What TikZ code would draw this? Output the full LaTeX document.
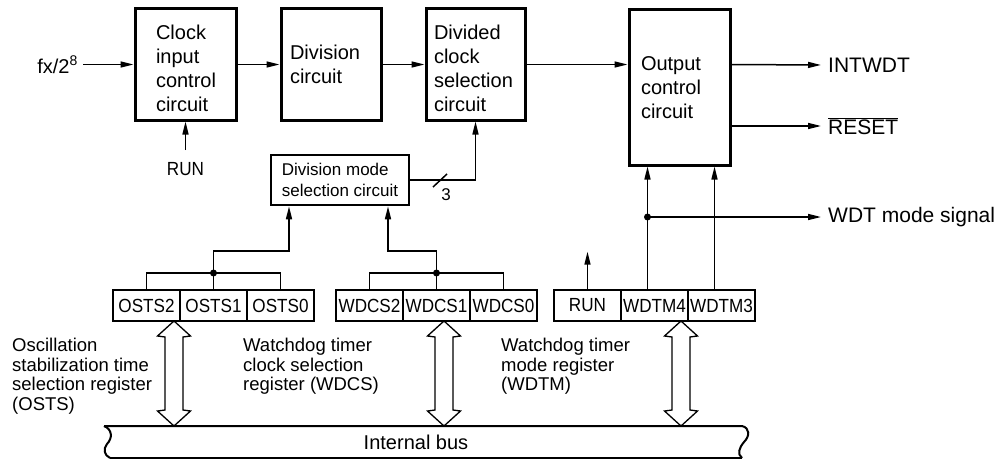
\documentclass[tikz,border=0pt]{standalone}
\usepackage{fontspec}
\setmainfont{Liberation Sans}
\newfontfamily\narrowfont[FakeStretch=0.9]{Liberation Sans}
\usetikzlibrary{arrows.meta}
\newcommand{\lowstrut}{\rule{0pt}{22pt}}
\tikzset{
  box/.style={draw, line width=3pt, align=left, font=\fontsize{20}{24}\selectfont, inner ysep=0pt},
  reg/.style={draw, line width=2.6pt, minimum width=67pt, minimum height=31pt, inner sep=0pt, font={\narrowfont\fontsize{19}{19}\selectfont}},
  wire/.style={line width=1.5pt},
  arr/.style={wire, -{Triangle[length=13pt,width=6pt]}},
  lbl/.style={inner xsep=3pt, inner ysep=0pt, font=\fontsize{20}{24}\selectfont},
  outlbl/.style={inner xsep=7pt, inner ysep=0pt, anchor=west, font=\fontsize{21}{24}\selectfont},
  note/.style={inner sep=0pt, align=left, anchor=north west, font=\fontsize{18.5}{19.5}\selectfont},
  dot/.style={circle, fill, inner sep=0pt, minimum size=7pt},
  dbl/.style={line width=1.3pt, fill=white},
  dblarrow/.pic={\draw[dbl] (0,0) -- (16.5,15) -- (9,16) -- (9,89) -- (16.5,90) -- (0,105) -- (-16.5,90) -- (-9,89) -- (-9,16) -- (-16.5,15) -- cycle;}
}
\begin{document}
\begin{tikzpicture}[x=1pt,y=-1pt]
\useasboundingbox (0,0) rectangle (1003,460);

% main blocks
\node[box, minimum width=101pt, minimum height=111pt, inner xsep=21pt, text width=59pt] (clk) at (185.5,64.5) {\lowstrut Clock\\input\\control\\circuit};
\node[box, minimum width=100pt, minimum height=111pt, inner xsep=9pt, text width=82pt] (div) at (331,64.5) {Division\\circuit};
\node[box, minimum width=99pt, minimum height=111pt, inner xsep=8pt, text width=83pt] (dcs) at (475.5,64.5) {\lowstrut Divided\\clock\\selection\\circuit};
\node[box, minimum width=101pt, minimum height=155pt, inner xsep=12pt, text width=77pt] (oc) at (679.5,87.5) {Output\\control\\circuit};
\node[box, line width=2.6pt, minimum width=138pt, minimum height=50pt, inner xsep=6pt, font=\fontsize{17}{21}\selectfont] (dms) at (340,180) {Division mode\\selection circuit};

% input
\node[lbl, inner xsep=5pt, anchor=east] (fx) at (83,64.5) {fx/2\textsuperscript{8}};
\draw[arr] (fx.east) -- (clk.west);
\draw[arr] (clk.east) -- (div.west);
\draw[arr] (div.east) -- (dcs.west);
\draw[arr] (dcs.east) -- (dcs.east -| oc.west);

\node[inner xsep=0pt, inner ysep=12pt, font={\narrowfont\fontsize{19}{19}\selectfont}] (run1) at (185.5,169) {RUN};
\draw[arr] (run1.north) -- (clk.south);

% outputs
\node[outlbl] (intwdt) at (821,65) {INTWDT};
\node[outlbl] (reset) at (821,126) {$\overline{\mbox{RESET}}$};
\node[outlbl] (wdt) at (821,217) {WDT mode signal};
\draw[arr] (dcs.east -| oc.east) -- (intwdt.west);
\draw[arr] (oc.east |- reset.west) -- (reset.west);

% registers
\node[reg] (osts2) at (146.5,305.5) {OSTS2};
\node[reg] (osts1) at (213.5,305.5) {OSTS1};
\node[reg] (osts0) at (280.5,305.5) {OSTS0};
\node[reg] (wdcs2) at (369.5,305.5) {WDCS2};
\node[reg] (wdcs1) at (436.5,305.5) {WDCS1};
\node[reg] (wdcs0) at (503.5,305.5) {WDCS0};
\node[reg] (run) at (587.5,305.5) {RUN};
\node[reg] (wdtm4) at (654.5,305.5) {WDTM4};
\node[reg] (wdtm3) at (721.5,305.5) {WDTM3};

% OSTS bracket
\node[dot] (od) at (213.5,273) {};
\draw[wire] (osts2.north) |- (od.center) -| (osts0.north);
\draw[wire] (osts1.north) -- (od.center);
\draw[arr] (od.center) -- ++(0,-22) -| ([xshift=-51pt]dms.south);

% WDCS bracket
\node[dot] (wd) at (436.5,273) {};
\draw[wire] (wdcs2.north) |- (wd.center) -| (wdcs0.north);
\draw[wire] (wdcs1.north) -- (wd.center);
\draw[arr] (wd.center) -- ++(0,-22) -| ([xshift=48pt]dms.south);

% division mode to divided clock selection
\draw[arr] (dms.east) -| (dcs.south);
\draw[wire] (433,187) -- (447,174);
\node[inner sep=0pt, font=\fontsize{17}{17}\selectfont] (three) at (446,195) {3};

% WDTM
\draw[arr] (run.north) -- ++(0,-37);
\coordinate (t4) at ([xshift=-7pt]wdtm4.north);
\coordinate (t3) at ([xshift=-7pt]wdtm3.north);
\draw[arr] (t4) -- (t4 |- oc.south);
\draw[arr] (t3) -- (t3 |- oc.south);
\node[dot] (md) at (t4 |- 0,217) {};
\draw[arr] (md.center) -- (wdt.west);

% internal bus
\fill[white] (104,426) -- (742,426) -- (742,458) -- (110,458) -- cycle;
\draw[line width=2pt] (104,426) -- (742,426)
  .. controls (750,428) and (750,436) .. (744,442)
  .. controls (739,448) and (737,454) .. (742,458);
\draw[line width=2.8pt] (742,458) -- (110,458);
\draw[line width=2pt] (110,458)
  .. controls (104,455) and (103,449) .. (107,444)
  .. controls (113,438) and (112,429) .. (104,426);
\node[lbl] (bus) at (416,442) {Internal bus};

% bus transfer arrows
\pic at (174,321) {dblarrow};
\pic at (444,321) {dblarrow};
\pic at (681,321) {dblarrow};

% register captions
\node[note] (c1) at (12,338) {Oscillation\\stabilization time\\selection register\\(OSTS)};
\node[note] (c2) at (243,338) {Watchdog timer\\clock selection\\register (WDCS)};
\node[note] (c3) at (501,338) {Watchdog timer\\mode register\\(WDTM)};
\end{tikzpicture}
\end{document}
